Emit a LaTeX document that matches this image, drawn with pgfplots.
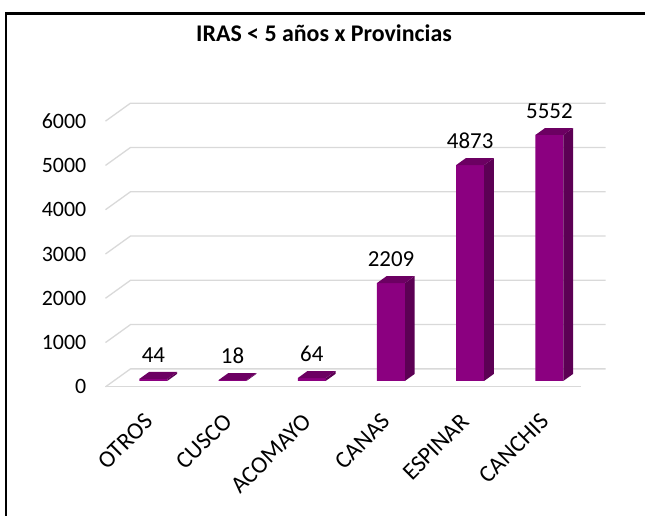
\documentclass[border=0pt]{standalone}
\usepackage{pgfplots}
\pgfplotsset{compat=1.18}
\usepackage{pgfplotstable}
\usepackage{fontspec}
\setmainfont{Carlito}
\definecolor{barfront}{RGB}{139,0,128}
\definecolor{barside}{RGB}{92,0,84}
\definecolor{bartop}{RGB}{108,0,98}
\definecolor{gridc}{RGB}{217,217,217}

\pgfplotstableread{
x v
0 44
1 18
2 64
3 2209
4 4873
5 5552
}\datatable

\begin{document}
\begin{tikzpicture}
\begin{axis}[
  x=79.2bp, y=0.0443bp,
  xmin=-0.605, xmax=5.711, ymin=-135, ymax=6300,
  clip=false,
  axis line style={draw=none},
  major tick style={draw=none},
  xtick={-0.105,0.895,1.895,2.895,3.895,4.895},
  xticklabels={OTROS,CUSCO,ACOMAYO,CANAS,ESPINAR,CANCHIS},
  xticklabel style={xshift=-2bp, yshift=-25bp, rotate=45, anchor=north east, inner sep=0pt, font=\fontsize{24}{28}\selectfont},
  ytick={-135,865,1865,2865,3865,4865,5865},
  yticklabels={0,1000,2000,3000,4000,5000,6000},
  yticklabel style={xshift=-19bp, anchor=east, inner sep=0pt, font=\fontsize{22}{26}\selectfont},
  /pgf/number format/assume math mode=true,
  /pgf/number format/1000 sep={},
]
% page corners and frame, in the axis frame
\coordinate (bbLL) at (axis cs:-1.93687,-3047.4);
\coordinate (bbUR) at (axis cs:6.20707,8600.5);
\draw[line width=2.7bp] (axis cs:-1.86111,-3150) -- (axis cs:-1.86111,8300.2) -- (axis cs:6.25,8300.2);
\node[font=\bfseries\fontsize{24}{28}\selectfont, anchor=base, inner sep=0pt] at (axis cs:2.15404,7659.1) {IRAS < 5 años x Provincias};
% back wall / floor grid (perspective)
\addplot[gridc, line width=1.3bp, mark=none] coordinates {(-0.605,-135) (-0.289,271) (5.711,271)};
\addplot[gridc, line width=1.3bp, mark=none] coordinates {(-0.605,865) (-0.289,1271) (5.711,1271)};
\addplot[gridc, line width=1.3bp, mark=none] coordinates {(-0.605,1865) (-0.289,2271) (5.711,2271)};
\addplot[gridc, line width=1.3bp, mark=none] coordinates {(-0.605,2865) (-0.289,3271) (5.711,3271)};
\addplot[gridc, line width=1.3bp, mark=none] coordinates {(-0.605,3865) (-0.289,4271) (5.711,4271)};
\addplot[gridc, line width=1.3bp, mark=none] coordinates {(-0.605,4865) (-0.289,5271) (5.711,5271)};
\addplot[gridc, line width=1.3bp, mark=none] coordinates {(-0.605,5865) (-0.289,6271) (5.711,6271)};
\addplot[gridc, line width=1.3bp, mark=none] coordinates {(-0.605,-135) (5.395,-135)};
% front faces
\addplot[ybar, bar width=0.354, bar shift=0, fill=barfront, draw=none,
  nodes near coords,
  every node near coord/.append style={yshift=16bp, anchor=south, inner sep=0pt, text=black, font=\fontsize{23}{27}\selectfont}]
  table[x=x,y=v]{\datatable};
% side and top faces
\pgfplotsinvokeforeach{0,...,5}{
  \pgfplotstablegetelem{#1}{v}\of\datatable
  \edef\va{\pgfplotsretval}
  \pgfmathsetmacro\xa{#1+0.177}
  \pgfmathsetmacro\xb{#1+0.2995}
  \pgfmathsetmacro\xc{#1-0.177}
  \pgfmathsetmacro\xd{#1-0.0545}
  \pgfmathsetmacro\vb{\va+158}
  \edef\tmp{\noexpand\addplot[fill=barside, draw=none, mark=none] coordinates {(\xa,0) (\xb,158) (\xb,\vb) (\xa,\va)};}
  \tmp
  \edef\tmp{\noexpand\addplot[fill=bartop, draw=none, mark=none] coordinates {(\xc,\va) (\xa,\va) (\xb,\vb) (\xd,\vb)};}
  \tmp
}
\end{axis}
\pgfresetboundingbox
\path[use as bounding box] (bbLL) rectangle (bbUR);
\end{tikzpicture}
\end{document}
